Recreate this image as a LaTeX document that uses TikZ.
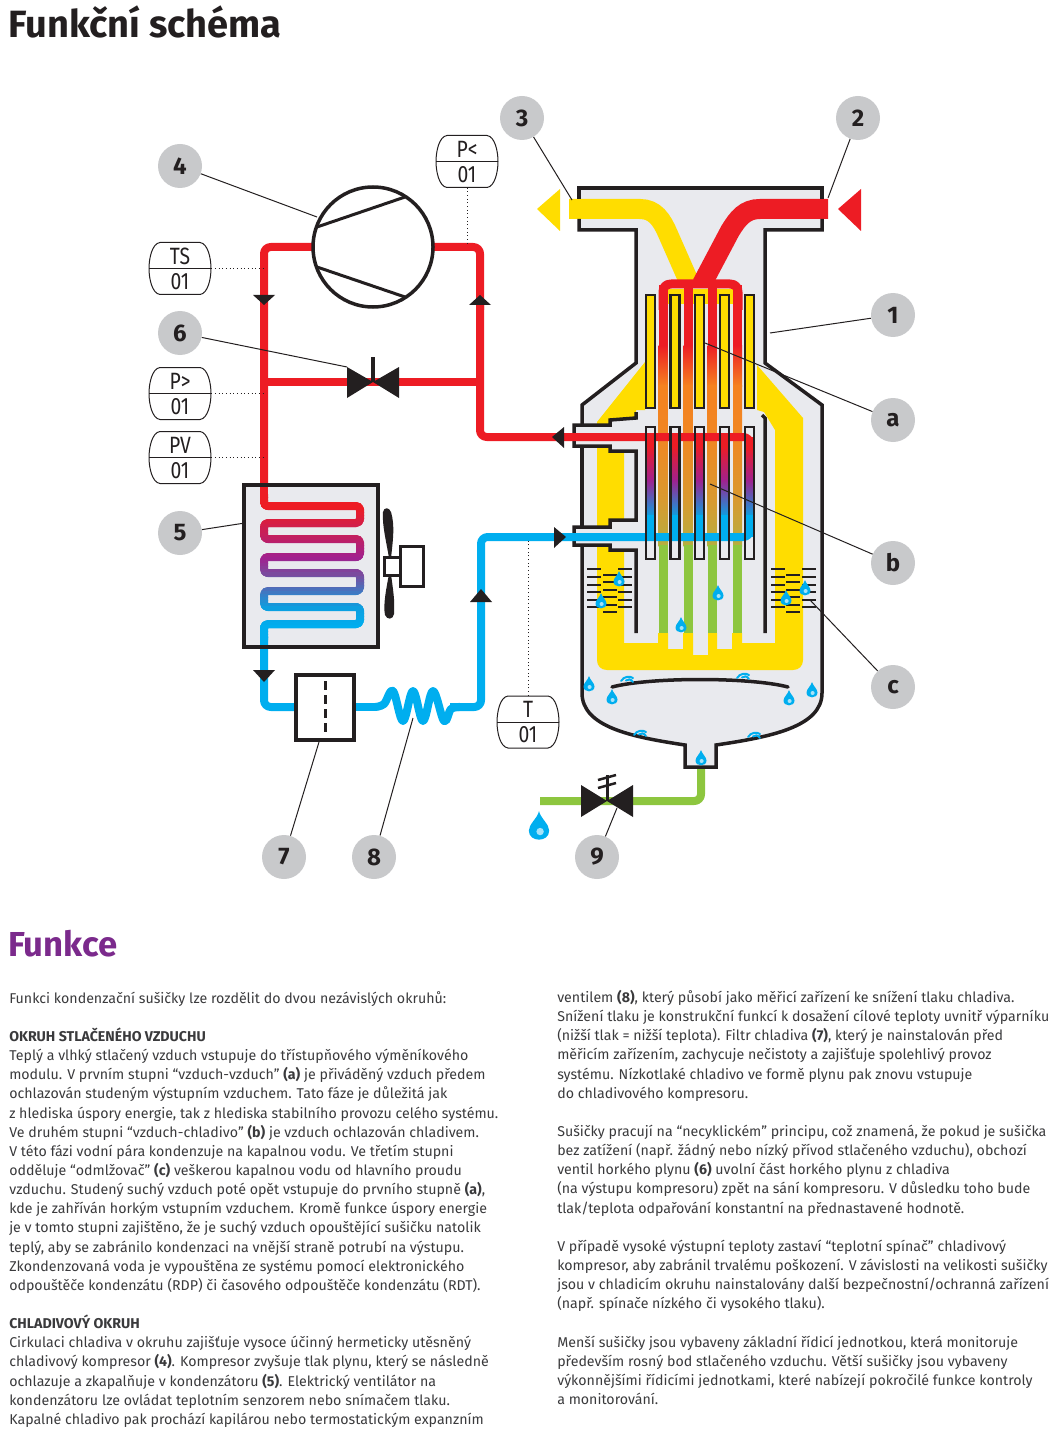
\documentclass[tikz,border=0pt]{standalone}
\usepackage{fontspec}
\setmainfont{Fira Sans}
\definecolor{cred}{HTML}{ED1C24}
\definecolor{cblue}{HTML}{00AEEF}
\definecolor{cyel}{HTML}{FFDD00}
\definecolor{cgreen}{HTML}{8DC63F}
\definecolor{cgray}{HTML}{E9EAEE}
\definecolor{cblk}{HTML}{231F20}
\definecolor{cbub}{HTML}{C8C9CB}
\definecolor{cpur}{HTML}{7B2A8C}
\definecolor{cmag}{HTML}{A0218F}
\definecolor{cvio}{HTML}{7B4A9E}
\definecolor{csky}{HTML}{0D9FE0}
\definecolor{corg}{HTML}{F58220}
\definecolor{ctan}{HTML}{D89A30}
\definecolor{coli}{HTML}{B5AE40}
\definecolor{ctxt}{HTML}{3A3A3C}
\tikzset{
 px/.style={line width=#1*0.75pt},
 pipe/.style={px=8,line join=round,rounded corners=5pt},
 serppipe/.style={px=8,line join=round,rounded corners=2.8pt},
 wall/.style={draw=cblk,px=3.5,line join=miter},
 fin/.style={draw=cblk,px=2.5},
 bubble/.style={circle,fill=cbub,inner sep=0pt,minimum size=33pt,text=cblk,font=\fontsize{18}{18}\selectfont\bfseries},
 leader/.style={draw=cblk,px=1},
 probe/.style={draw=cblk,px=1,dotted},
 pillbody/.style={inner sep=0pt,minimum width=46.5pt,minimum height=39pt},
 pilltext/.style={inner sep=0pt,text=cblk,font=\fontsize{14.5}{14.5}\selectfont},
 para/.style={anchor=north west,inner sep=0pt,align=left,text=ctxt,font=\fontsize{10.65}{14.36}\selectfont},
 drop/.pic={
  \fill[cblue] (0,-8) .. controls (1,-4) and (5.5,-1) .. (5.5,2.5) .. controls (5.5,9) and (-5.5,9) .. (-5.5,2.5) .. controls (-5.5,-1) and (-1,-4) .. (0,-8) -- cycle;
  \fill[cblue!35!white] (0.6,3) circle[radius=2];
 },
 wisp/.pic={
  \draw[cblue,px=2,line cap=round] (-6,2) .. controls (-3,-3) and (3,-3) .. (6,-1);
  \draw[cblue,px=2,line cap=round] (-1,1.5) .. controls (1,-0.5) and (4,0) .. (6,3);
 }
}
\newcommand\vg[6]{\shade[top color=#5,bottom color=#6] (#1,#3) rectangle (#2,#4);}
\newcommand\tallbox[1]{\scalebox{1}[1.22]{#1}}
\newcommand\pillshape{(-20,-26) -- (20,-26) .. controls (28,-25) and (31,-10) .. (31,0) .. controls (31,10) and (28,25) .. (20,26) -- (-20,26) .. controls (-28,25) and (-31,10) .. (-31,0) .. controls (-31,-10) and (-28,-25) .. (-20,-26) -- cycle}
\newcommand\pill[4]{%
 \node[pillbody] (#1) at (#2) {};
 \begin{scope}[shift={(#2)}]
  \draw[cblk,px=1] \pillshape;
  \draw[cblk,px=1] (-31,0) -- (31,0);
  \node[pilltext] (#1t) at (0,-12.5) {\tallbox{#3}};
  \node[pilltext] (#1b) at (0,13) {\tallbox{#4}};
 \end{scope}}
\newcommand\serp{(264,490) -- (264,506) -- (360,506) -- (360,523) -- (264,523) -- (264,539) -- (360,539) -- (360,557) -- (264,557) -- (264,573) -- (360,573) -- (360,591) -- (264,591) -- (264,607) -- (360,607) -- (360,624) -- (264,624) -- (264,640)}
\newcommand\serpband[4]{%
 \pgfmathtruncatemacro\nn{(#2-#1)/3}%
 \foreach \i in {0,...,\nn}{%
  \pgfmathtruncatemacro\pp{100*\i/\nn}%
  \pgfmathsetmacro\yy{#1+3*\i}%
  \begin{scope}
   \clip (250,\yy) rectangle (375,\yy+3.6);
   \draw[serppipe,color=#4!\pp!#3] \serp;
  \end{scope}}}
\begin{document}
\begin{tikzpicture}[x=0.75pt,y=-0.75pt]
\useasboundingbox (0,0) rectangle (1061,1444);
% titles
\node[anchor=base west,inner sep=0pt,text=cblk,font=\fontsize{28.5}{28.5}\selectfont\bfseries] (title) at (8,37.5) {Funkční schéma};
\node[anchor=base west,inner sep=0pt,text=cpur,font=\fontsize{26}{26}\selectfont\bfseries] (funkce) at (8,956) {Funkce};
% housing
\fill[cgray] (579,188) -- (822,188) -- (822,230) -- (765,230) -- (765,363) -- (822,405) -- (822,693) .. controls (822,727) and (770,737) .. (716,745) -- (716,767) -- (685,767) -- (685,745) .. controls (632,737) and (582,727) .. (582,693) -- (582,405) -- (636,363) -- (636,230) -- (579,230) -- cycle;
% yellow air
\fill[cyel] (645,362) -- (645,410) -- (636,410) -- (636,420) -- (624,420) -- (624,643) -- (658,643) -- (658,633) -- (668,633) -- (668,649) -- (683,649) -- (683,633) -- (693,633) -- (693,655) -- (708,655) -- (708,633) -- (717,633) -- (717,649) -- (732,649) -- (732,633) -- (742,633) -- (742,643) -- (775,643) -- (775,430) -- (764,412) -- (757,410) -- (757,365) -- (803,418) -- (803,660) .. controls (803,666) and (799,670) .. (793,670) -- (607,670) .. controls (601,670) and (597,666) .. (597,660) -- (597,422) -- cycle;
\fill[cyel] (668,289) rectangle (733,304);
% demister left and right
\foreach \x in {587,618,771,802}
 \foreach \y in {569,577,585,592,600,607}
  \draw[cblk,px=2] (\x,\y) -- (\x+14,\y);
\foreach \x in {603,786}
 \foreach \y in {575,582,590,597,605,612}
  \draw[cblk,px=2] (\x,\y) -- (\x+14,\y);
% air strips
\foreach \x in {663,688,712,737.5}{
 \fill[cred] (\x-4.5,285) rectangle (\x+4.5,346);
 \vg{\x-4.5}{\x+4.5}{345}{386}{cred}{corg}
 \vg{\x-4.5}{\x+4.5}{385}{441}{corg}{corg!80!ctan}
 \vg{\x-4.5}{\x+4.5}{440}{501}{corg!80!ctan}{ctan}
 \vg{\x-4.5}{\x+4.5}{500}{546}{ctan}{coli}
 \fill[cgreen] (\x-4.5,545) rectangle (\x+4.5,633);
}
% air pipes
\draw[cyel,px=20] (569,209) -- (640,209) .. controls (655,209) and (662,220) .. (668,234) -- (690,284);
\draw[cred,px=20] (828,209) -- (760,209) .. controls (745,209) and (738,218) .. (730,231) -- (702,284);
\draw[cred,px=9,line join=round] (663,310) -- (663,292) .. controls (663,287) and (666,284) .. (671,284) -- (730,284) .. controls (735,284) and (738,287) .. (738,292) -- (738,310);
% upper fins
\foreach \x in {646.2,670.7,695.2,720.2,745.2}
 \draw[fin,fill=cyel] (\x,295.2) rectangle (\x+8.6,407.8);
% lower fins fill
\foreach \x in {646.2,670.7,695.2,720.2,745.2}{
 \fill[cgray] (\x,427) rectangle (\x+8.6,559);
 \fill[cred] (\x,437) rectangle (\x+8.6,447);
 \vg{\x}{\x+8.6}{446}{481}{cred}{cmag}
 \vg{\x}{\x+8.6}{480}{516}{cmag}{csky}
 \fill[cblue] (\x,515) rectangle (\x+8.6,537);
}
% stubs
\fill[cgray] (574,425) -- (610,425) -- (610,420) -- (640,420) -- (640,451) -- (610,451) -- (610,446) -- (574,446) -- cycle;
\fill[cgray] (574,527) -- (610,527) -- (610,520) -- (640,520) -- (640,550) -- (610,550) -- (610,545) -- (574,545) -- cycle;
% housing outline
\draw[wall] (579,199) -- (579,188) -- (822,188) -- (822,199);
\draw[wall] (579,219) -- (579,230) -- (636,230) -- (636,363) -- (582,405) -- (582,425);
\draw[wall] (822,219) -- (822,230) -- (765,230) -- (765,363) -- (822,405) -- (822,693) .. controls (822,727) and (770,737) .. (716,745) -- (716,767) -- (685,767) -- (685,745) .. controls (632,737) and (582,727) .. (582,693) -- (582,545);
\draw[wall] (582,527) -- (582,446);
\draw[wall] (636,412) -- (636,418) -- (610,420) -- (610,425) -- (574,425) -- (574,446) -- (610,446) -- (610,451) -- (636,451) -- (636,520) -- (610,520) -- (610,527) -- (574,527) -- (574,545) -- (610,545) -- (610,550) -- (636,550) -- (636,633);
\draw[wall] (762,415) -- (765,418) -- (765,633);
% baffle
\draw[cblk,px=3.5,line cap=round] (612,687) .. controls (650,677) and (750,677) .. (788,687);
% refrigerant in evaporator and outer loop
\draw[pipe,color=cred] (480,303) -- (480,437) -- (750,437) -- (750,450);
\draw[pipe,color=cblue] (750,525) -- (750,537) -- (481,537) -- (481,707) -- (450,707);
% lower fins outlines
\foreach \x in {646.2,670.7,695.2,720.2,745.2}
 \draw[fin] (\x,427.2) rectangle (\x+8.6,558.8);
% drain
\draw[pipe,color=cgreen] (701,769) -- (701,801) -- (540,801);
% compressor
\draw[pipe,color=cred] (373,247) -- (264,247) -- (264,495);
\draw[pipe,color=cred] (373,247) -- (480,247) -- (480,310);
\draw[cred,px=8] (264,382) -- (480,382);
\node[circle,draw=cblk,fill=white,px=3.5,minimum size=90pt,inner sep=0pt] (comp) at (373,247) {};
\draw[cblk,px=3] (317,227) -- (405,197);
\draw[cblk,px=3] (317,267) -- (405,297);
% bypass valve
\fill[cblk] (347,367) -- (373,382) -- (347,398) -- cycle;
\fill[cblk] (399,367) -- (373,382) -- (399,398) -- cycle;
\draw[cblk,px=3.5] (373,357) -- (373,382);
% flow arrows
\fill[cblk] (253,295) -- (275,295) -- (264,305) -- cycle;
\fill[cblk] (469,305) -- (491,305) -- (480,295) -- cycle;
\fill[cblk] (470,602) -- (492,602) -- (481,589) -- cycle;
\fill[cblk] (564,427) -- (564,448) -- (552,437) -- cycle;
\fill[cblk] (554,527) -- (554,548) -- (566,537) -- cycle;
\fill[cyel] (560,189) -- (560,231) -- (537,209) -- cycle;
\fill[cred] (861,189) -- (861,231) -- (838,209) -- cycle;
% condenser
\draw[wall,fill=cgray] (244,485) rectangle (378,647);
\draw[cred,px=8] (264,485) -- (264,500);
\serpband{494}{506}{cred}{cred}
\serpband{506}{557}{cred}{cmag}
\serpband{557}{573}{cmag}{cvio}
\serpband{573}{607}{cvio}{csky}
\serpband{607}{625}{csky}{cblue}
\serpband{625}{640}{cblue}{cblue}
\draw[wall] (244,485) -- (378,485);
\draw[pipe,color=cblue] (264,636) -- (264,707) -- (300,707);
\draw[cblk,px=3.5] (244,647) -- (378,647);
\fill[cblk] (253,670) -- (275,670) -- (264,682) -- cycle;
% fan
\fill[cblk] (389,558) .. controls (386,540) and (382,525) .. (383,512) .. controls (384,507) and (389,507) .. (391,512) .. controls (395,525) and (393,540) .. (391,558) -- cycle;
\fill[cblk] (389,574) .. controls (386,590) and (383,605) .. (385,615) .. controls (387,620) and (393,620) .. (394,614) .. controls (395,600) and (393,590) .. (391,574) -- cycle;
\draw[cblk,px=3,fill=white] (384,557) rectangle (400,575);
\draw[cblk,px=3,fill=white] (400,546) rectangle (423,586);
% coil and filter
\draw[cblue,px=8,line join=round] (354,707) -- (377,707);
\draw[cblue,px=8,line join=round,line cap=round] plot[smooth,tension=0.6] coordinates {(375,707) (384,704) (393,691) (403,721) (413,691) (423,721) (433,691) (444,721) (451,709) (460,707)};
\draw[cblk,px=3.5,fill=white] (296,675) rectangle (354,740);
\draw[cblk,px=3,dashed,dash pattern=on 7pt off 3.5pt] (325,681) -- (325,735);
% drain valve
\fill[cblk] (581,785) -- (607,801) -- (581,817) -- cycle;
\fill[cblk] (633,785) -- (607,801) -- (633,817) -- cycle;
\draw[cblk,px=3] (607,775) -- (607,801);
\draw[cblk,px=2.5] (598,780) -- (616,775);
\draw[cblk,px=2.5] (598,788) -- (616,783);
% droplets
\foreach \p in {(619,579),(601,601),(786,598),(805,588),(718,593),(681,625),(589,684),(612,697),(789,698),(812,690),(701,758)}
 \pic at \p {drop};
\pic[scale=1.85] at (539,826) {drop};
\foreach \p in {(627,679),(743,676),(640,733),(754,735)}
 \pic at \p {wisp};
% instruments
\pill{ts}{180,268.5}{TS}{01}
\pill{pg}{180,393.5}{P>}{01}
\pill{pv}{180,457.5}{PV}{01}
\pill{pl}{467,161.5}{P<}{01}
\pill{tt}{528,722}{T}{01}
\coordinate (pts) at (264,268.5);
\coordinate (ppg) at (264,393.5);
\coordinate (ppv) at (264,457.5);
\coordinate (ppl) at (467,245);
\coordinate (ptt) at (528,540);
\draw[probe] (ts) -- (pts);
\draw[probe] (pg) -- (ppg);
\draw[probe] (pv) -- (ppv);
\draw[probe] (pl) -- (ppl);
\draw[probe] (tt) -- (ptt);
% callouts
\node[bubble] (n1) at (893,315) {1};
\node[bubble] (n2) at (858,118) {2};
\node[bubble] (n3) at (522,118) {3};
\node[bubble] (n4) at (180,166) {4};
\node[bubble] (n5) at (180,533) {5};
\node[bubble] (n6) at (180,333) {6};
\node[bubble] (n7) at (284,857) {7};
\node[bubble] (n8) at (374,857) {8};
\node[bubble] (n9) at (597,857) {9};
\node[bubble] (na) at (893,420) {a};
\node[bubble] (nb) at (893,563) {b};
\node[bubble] (nc) at (893,687) {c};
\coordinate (e1) at (770,333);
\coordinate (e2) at (828,198);
\coordinate (e3) at (572,200);
\coordinate (e4) at (317,217);
\coordinate (e5) at (245,523);
\coordinate (e6) at (347,367);
\coordinate (e7) at (319,742);
\coordinate (e8) at (413,718);
\coordinate (e9) at (617,808);
\coordinate (ea) at (705,343);
\coordinate (eb) at (710,484);
\coordinate (ec) at (810,600);
\foreach \k in {1,...,9,a,b,c} \draw[leader] (n\k) -- (e\k);
% text
\node[para] (col1) at (9,991) {Funkci kondenzační sušičky lze rozdělit do dvou nezávislých okruhů:\\[14.36pt]
\textbf{OKRUH STLAČENÉHO VZDUCHU}\\
Teplý a vlhký stlačený vzduch vstupuje do třístupňového výměníkového\\
modulu. V prvním stupni “vzduch-vzduch” \textbf{(a)} je přiváděný vzduch předem\\
ochlazován studeným výstupním vzduchem. Tato fáze je důležitá jak\\
z hlediska úspory energie, tak z hlediska stabilního provozu celého systému.\\
Ve druhém stupni “vzduch-chladivo” \textbf{(b)} je vzduch ochlazován chladivem.\\
V této fázi vodní pára kondenzuje na kapalnou vodu. Ve třetím stupni\\
odděluje “odmlžovač” \textbf{(c)} veškerou kapalnou vodu od hlavního proudu\\
vzduchu. Studený suchý vzduch poté opět vstupuje do prvního stupně \textbf{(a)},\\
kde je zahříván horkým vstupním vzduchem. Kromě funkce úspory energie\\
je v tomto stupni zajištěno, že je suchý vzduch opouštějící sušičku natolik\\
teplý, aby se zabránilo kondenzaci na vnější straně potrubí na výstupu.\\
Zkondenzovaná voda je vypouštěna ze systému pomocí elektronického\\
odpouštěče kondenzátu (RDP) či časového odpouštěče kondenzátu (RDT).\\[14.36pt]
\textbf{CHLADIVOVÝ OKRUH}\\
Cirkulaci chladiva v okruhu zajišťuje vysoce účinný hermeticky utěsněný\\
chladivový kompresor \textbf{(4)}. Kompresor zvyšuje tlak plynu, který se následně\\
ochlazuje a zkapalňuje v kondenzátoru \textbf{(5)}. Elektrický ventilátor na\\
kondenzátoru lze ovládat teplotním senzorem nebo snímačem tlaku.\\
Kapalné chladivo pak prochází kapilárou nebo termostatickým expanzním};
\node[para] (col2) at (557,990) {ventilem \textbf{(8)}, který působí jako měřicí zařízení ke snížení tlaku chladiva.\\
Snížení tlaku je konstrukční funkcí k dosažení cílové teploty uvnitř výparníku\\
(nižší tlak = nižší teplota). Filtr chladiva \textbf{(7)}, který je nainstalován před\\
měřicím zařízením, zachycuje nečistoty a zajišťuje spolehlivý provoz\\
systému. Nízkotlaké chladivo ve formě plynu pak znovu vstupuje\\
do chladivového kompresoru.\\[14.36pt]
Sušičky pracují na “necyklickém” principu, což znamená, že pokud je sušička\\
bez zatížení (např. žádný nebo nízký přívod stlačeného vzduchu), obchozí\\
ventil horkého plynu \textbf{(6)} uvolní část horkého plynu z chladiva\\
(na výstupu kompresoru) zpět na sání kompresoru. V důsledku toho bude\\
tlak/teplota odpařování konstantní na přednastavené hodnotě.\\[14.36pt]
V případě vysoké výstupní teploty zastaví “teplotní spínač” chladivový\\
kompresor, aby zabránil trvalému poškození. V závislosti na velikosti sušičky\\
jsou v chladicím okruhu nainstalovány další bezpečnostní/ochranná zařízení\\
(např. spínače nízkého či vysokého tlaku).\\[14.36pt]
Menší sušičky jsou vybaveny základní řídicí jednotkou, která monitoruje\\
především rosný bod stlačeného vzduchu. Větší sušičky jsou vybaveny\\
výkonnějšími řídicími jednotkami, které nabízejí pokročilé funkce kontroly\\
a monitorování.};
\end{tikzpicture}
\end{document}
